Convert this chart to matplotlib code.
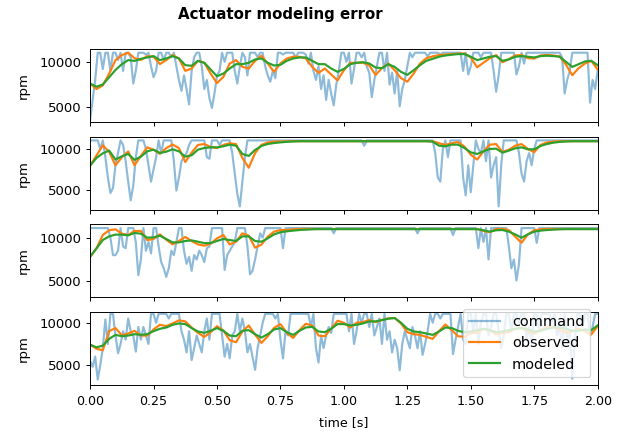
"""
Actuator modeling error: commanded vs observed vs modeled rpm, 4 runs.
"""

import numpy as np
import matplotlib
matplotlib.use("Agg")
import matplotlib.pyplot as plt

# ── Data ─────────────────────────────────────────────────────────────────────
# command sampled every 10 ms, observed / modeled every 25 ms
T_CMD = np.linspace(0.0, 2.0, 201)
T_FIT = np.linspace(0.0, 2.0, 81)

CMD_1 = [
    3600, 5800, 8000, 11000, 11000, 9200, 11000, 11000, 9000, 11000,
    11000, 10200, 11000, 9000, 11000, 11000, 10500, 7600, 9000, 11000,
    11000, 11000, 10800, 11000, 9500, 8300, 9000, 11000, 11000, 10200,
    11000, 11000, 10500, 11000, 9500, 8000, 6800, 8500, 7000, 5300,
    9000, 10500, 11000, 11000, 9500, 7000, 8000, 6000, 4900, 6500,
    8500, 9000, 11000, 10000, 11000, 11000, 11000, 9000, 7600, 9500,
    11000, 10500, 8500, 11000, 11000, 11000, 10500, 11000, 11000, 9500,
    8500, 7800, 9000, 8200, 11000, 11000, 10800, 11000, 11000, 11000,
    11000, 10500, 11000, 11000, 11000, 10800, 9800, 11000, 9000, 8000,
    9500, 7000, 8500, 5800, 8000, 6500, 5200, 7500, 9000, 11000,
    11000, 10000, 11000, 7600, 9200, 11000, 11000, 10500, 11000, 9500,
    8800, 6100, 8000, 9500, 11000, 11000, 9000, 11000, 7500, 8800,
    6500, 9000, 5100, 7000, 8000, 9500, 11000, 10500, 11000, 11000,
    11000, 11000, 11000, 10600, 11000, 11000, 11000, 11000, 10800, 11000,
    11000, 11000, 11000, 11000, 11000, 11000, 11000, 9000, 11000, 8600,
    9500, 11000, 11000, 11000, 10500, 11000, 11000, 11000, 11000, 9000,
    6700, 8500, 11000, 11000, 11000, 11000, 11000, 11000, 8600, 9500,
    11000, 9800, 11000, 11000, 11000, 11000, 11000, 11000, 11000, 11000,
    11000, 11000, 11000, 11000, 11000, 11000, 10500, 6500, 8000, 9000,
    11000, 11000, 11000, 11000, 11000, 11000, 11000, 5500, 8000, 7000,
    9000,
]
OBS_1 = [
    7600, 7000, 7400, 8700, 10190, 10740, 11000, 10400, 10200, 10630,
    10560, 9750, 10190, 10740, 10370, 9000, 9260, 10110, 9890, 8700,
    7650, 8330, 9810, 10190, 9440, 9260, 10110, 10670, 9810, 8890,
    9810, 10370, 10560, 10560, 10370, 9440, 8780, 9260, 8600, 7950,
    9070, 9890, 9890, 9900, 9600, 8550, 9300, 9810, 9070, 8200,
    7800, 8700, 9810, 10400, 10600, 10750, 10800, 10850, 10900, 10930,
    10480, 9400, 9900, 10400, 10740, 9950, 10300, 10700, 10750, 10400,
    10350, 10700, 10750, 10700, 10600, 9700, 8520, 9300, 9810, 10100,
    9150,
]
MOD_1 = [
    7600, 7250, 7500, 8300, 9100, 9740, 10190, 10100, 10330, 10480,
    10630, 10190, 10370, 10630, 10370, 9630, 9560, 10110, 9890, 9150,
    8410, 8700, 9260, 9740, 9740, 9890, 10260, 10370, 9890, 9590,
    9670, 10110, 10370, 10480, 10480, 10110, 9740, 9740, 9260, 8890,
    9220, 9740, 9890, 9960, 9810, 9370, 9300, 9740, 9440, 8890,
    8560, 9070, 9630, 10110, 10330, 10560, 10700, 10780, 10850, 10850,
    10560, 10190, 10370, 10560, 10630, 10110, 10260, 10560, 10630, 10560,
    10480, 10630, 10670, 10630, 10560, 10000, 9440, 9740, 10040, 10110,
    9630,
]

CMD_2 = [
    11050, 11050, 11050, 11050, 10000, 11050, 9000, 6500, 4600, 5200,
    8000, 9500, 11050, 10500, 8500, 6000, 3700, 5500, 9000, 11050,
    11050, 11050, 10000, 8000, 6000, 7500, 9000, 11050, 9500, 11050,
    11050, 11050, 11050, 8500, 4900, 6500, 8500, 9000, 9500, 10500,
    11050, 11050, 11050, 11050, 11050, 11050, 9000, 8800, 11050, 11050,
    11050, 10500, 11050, 11050, 11050, 11050, 9500, 7000, 4500, 2950,
    6000, 9000, 11050, 11050, 11050, 11050, 11050, 11050, 11050, 11050,
    11050, 11050, 11050, 11050, 11050, 11050, 11050, 11050, 11050, 11050,
    11050, 11050, 11050, 11050, 11050, 11050, 11050, 11050, 11050, 11050,
    11050, 11050, 11050, 11050, 11050, 11050, 11050, 11050, 11050, 11050,
    11050, 11050, 11050, 11050, 11050, 11050, 11050, 11050, 10400, 11050,
    11050, 11050, 11050, 11050, 11050, 11050, 11050, 11050, 11050, 11050,
    11050, 11050, 11050, 11050, 11050, 11050, 11050, 11050, 11050, 11050,
    11050, 11050, 11050, 11050, 11050, 11050, 9500, 6500, 6000, 10000,
    11050, 9000, 11050, 11050, 11050, 11050, 11050, 6500, 4300, 8000,
    4700, 8000, 11050, 10000, 9500, 11050, 8500, 11050, 6500, 8000,
    9000, 2950, 8000, 11050, 11050, 11050, 11050, 11050, 11050, 9500,
    7000, 6000, 8500, 9500, 8000, 10000, 11050, 11050, 11050, 11050,
    11050, 11050, 11050, 11050, 11050, 11050, 11050, 11050, 11050, 11050,
    11050, 11050, 11050, 11050, 11050, 11050, 11050, 11050, 11050, 11050,
    11050,
]
OBS_2 = [
    7960, 9200, 10450, 9650, 8000, 8980, 9700, 8000, 9150, 10200,
    9900, 9400, 10100, 10550, 10100, 8400, 9550, 10500, 10600, 10250,
    10120, 10500, 10700, 10600, 8900, 7700, 9500, 10500, 10800, 10900,
    10920, 10940, 10960, 10960, 10960, 10960, 10960, 10960, 10960, 10960,
    10960, 10960, 10960, 10960, 10960, 10960, 10960, 10960, 10960, 10960,
    10960, 10960, 10960, 10960, 10950, 10700, 10500, 10700, 10850, 10300,
    9300, 8700, 9700, 10530, 10600, 9650, 9900, 10400, 10600, 10000,
    9600, 10500, 10800, 10900, 10950, 10960, 10960, 10960, 10960, 10960,
    10960,
]
MOD_2 = [
    7960, 8900, 9470, 9800, 8700, 9100, 9390, 8660, 9060, 9710,
    9920, 9510, 9670, 9960, 9710, 9060, 9230, 9920, 10120, 10200,
    10200, 10330, 10530, 10400, 9390, 9150, 9880, 10370, 10610, 10730,
    10810, 10880, 10920, 10950, 10950, 10950, 10950, 10950, 10950, 10950,
    10950, 10950, 10950, 10950, 10950, 10950, 10950, 10950, 10950, 10950,
    10950, 10950, 10950, 10950, 10900, 10400, 10330, 10530, 10530, 10120,
    9590, 9390, 9710, 10000, 10040, 9550, 9800, 10080, 10200, 9960,
    9960, 10370, 10610, 10770, 10870, 10920, 10950, 10950, 10950, 10950,
    10950,
]

CMD_3 = [
    11100, 11100, 11100, 11100, 11100, 11100, 11100, 11100, 10000, 8000,
    8000, 8500, 11100, 9000, 8800, 11100, 11100, 11100, 9500, 5700,
    7500, 11100, 8500, 9500, 8200, 11100, 11100, 9000, 7200, 6500,
    5500, 6500, 8500, 8000, 9500, 11100, 11100, 8500, 7000, 7800,
    6200, 8000, 7500, 8500, 8000, 7200, 8800, 9000, 11100, 11100,
    11100, 11100, 11100, 6300, 8000, 8500, 9000, 9500, 11100, 11100,
    11100, 11100, 9000, 5800, 6200, 7500, 9000, 10500, 10000, 11100,
    11100, 11100, 11100, 11100, 11100, 11100, 8800, 11100, 11100, 11100,
    11100, 11100, 11100, 11100, 11100, 11100, 11100, 11100, 11100, 11100,
    11100, 11100, 11100, 11100, 11100, 11100, 10500, 11100, 11100, 11100,
    11100, 11100, 11100, 11100, 11100, 11100, 11100, 11100, 11100, 11100,
    11100, 11100, 11100, 11100, 11100, 11100, 11100, 11100, 11100, 11100,
    11100, 11100, 11100, 11100, 11100, 11100, 11100, 11100, 11100, 10500,
    11100, 11100, 11100, 11100, 11100, 11100, 11100, 11100, 11100, 11100,
    11100, 11100, 11100, 10300, 11100, 11100, 11100, 11100, 11100, 11100,
    11100, 11100, 11100, 8800, 11100, 9500, 11100, 7500, 11100, 11100,
    11100, 11100, 11100, 11100, 11100, 9000, 6500, 7500, 5100, 7000,
    11100, 11100, 11100, 11100, 11100, 11100, 9400, 11100, 11100, 11100,
    11100, 11100, 11100, 11100, 11100, 11100, 11100, 11100, 11100, 11100,
    11100, 11100, 11100, 11100, 11100, 11100, 11100, 11100, 11100, 11100,
    11100,
]
OBS_3 = [
    7810, 8770, 10310, 10850, 10960, 10460, 10310, 10770, 10770, 9730,
    9850, 10380, 9770, 9230, 9620, 10080, 9620, 9230, 9080, 9310,
    9920, 10310, 9230, 9540, 10500, 10230, 8850, 9200, 10120, 10690,
    10880, 10880, 10960, 11000, 11000, 11000, 11000, 11000, 11000, 11000,
    11000, 11000, 11000, 11000, 11000, 11000, 11000, 11000, 11000, 11000,
    11000, 11000, 11000, 11000, 11000, 11000, 11000, 11000, 11000, 11000,
    11000, 11000, 10770, 10620, 11000, 11000, 10880, 10120, 9420, 10380,
    10850, 10960, 11000, 11000, 11000, 11000, 11000, 11000, 11000, 11000,
    11000,
]
MOD_3 = [
    7810, 8770, 9730, 10150, 10350, 10350, 10270, 10540, 10460, 10000,
    10040, 10230, 9850, 9460, 9460, 9620, 9690, 9540, 9380, 9380,
    9620, 9850, 9730, 9620, 10150, 10150, 9620, 9540, 9920, 10380,
    10620, 10730, 10810, 10880, 10920, 10960, 10980, 10980, 10980, 10980,
    10980, 10980, 10980, 10980, 10980, 10980, 10980, 10980, 10980, 10980,
    10980, 10980, 10980, 10980, 10980, 10980, 10980, 10980, 10980, 10980,
    10980, 10980, 10850, 10690, 10850, 10880, 10690, 10380, 10000, 10380,
    10690, 10810, 10880, 10920, 10960, 10980, 10980, 10980, 10980, 10980,
    10980,
]

CMD_4 = [
    5500, 4800, 6000, 3300, 5000, 7000, 10400, 7500, 11050, 11050,
    8500, 6400, 7500, 9000, 8000, 10500, 9000, 8500, 6600, 9500,
    8000, 9500, 8500, 7500, 11050, 11050, 10000, 11050, 11050, 11050,
    11050, 10500, 11050, 11050, 11050, 11050, 9000, 8000, 6500, 9000,
    5600, 7000, 8500, 7500, 6500, 9000, 10500, 8000, 11050, 11050,
    11050, 11050, 8500, 6000, 7500, 5800, 8500, 9000, 11050, 9000,
    10500, 9000, 6500, 7500, 6000, 4450, 7000, 8500, 10000, 11050,
    11050, 11050, 11050, 10500, 11050, 8000, 5800, 9000, 8500, 11050,
    11050, 11050, 11050, 11050, 11050, 11050, 11050, 9500, 11050, 7000,
    5300, 8500, 7000, 8500, 9500, 8800, 11050, 11050, 11050, 11050,
    11050, 11050, 9000, 11050, 7500, 9000, 11050, 10000, 11050, 11050,
    9500, 11050, 8500, 9500, 10500, 7500, 11050, 8000, 9000, 6500,
    8000, 7000, 4400, 7500, 9000, 8000, 7000, 9500, 8500, 7000,
    9000, 6200, 7500, 9000, 11050, 10000, 11050, 11050, 10500, 11050,
    11050, 11050, 11050, 6300, 8000, 9500, 11050, 8000, 7500, 11050,
    11050, 9000, 11050, 7500, 10000, 11050, 11050, 8500, 9500, 11050,
    11050, 9000, 7000, 8500, 11050, 11050, 9000, 11050, 11050, 10000,
    11050, 11050, 8000, 9500, 7500, 11050, 11050, 9000, 11050, 11050,
    11050, 11050, 10000, 11050, 8500, 9500, 7000, 11050, 8000, 9000,
    3400, 8000, 11050, 11050, 9500, 11050, 11050, 8500, 9500, 11050,
    11050,
]
OBS_4 = [
    7420, 6940, 6750, 9010, 9370, 8530, 8730, 9050, 8490, 8490,
    9210, 9760, 9600, 9920, 10280, 10160, 9440, 8810, 8330, 8890,
    9600, 9090, 7940, 7700, 8970, 9680, 8610, 7620, 8410, 9400,
    9840, 8810, 8210, 9130, 9880, 9680, 8490, 8410, 9290, 10240,
    10000, 9440, 10000, 10080, 10320, 10080, 10320, 10520, 10560, 9920,
    8890, 8650, 8570, 8330, 8100, 9010, 9800, 9130, 8410, 8330,
    8810, 8810, 9290, 9130, 8610, 8810, 8890, 9290, 9400, 9010,
    8730, 9130, 9520, 9520, 9210, 8810, 8970, 9290, 9010, 8610,
    9600,
]
MOD_4 = [
    7420, 7100, 7300, 8100, 8570, 8410, 8490, 8650, 8570, 8650,
    9010, 9290, 9440, 9760, 9920, 9840, 9370, 8970, 8810, 9050,
    9370, 9050, 8490, 8410, 9050, 9130, 8650, 8250, 8650, 9210,
    9370, 8890, 8570, 9050, 9440, 9520, 8970, 8890, 9290, 9840,
    9840, 9680, 9760, 9920, 10160, 10160, 10320, 10480, 10560, 10000,
    9290, 8970, 8890, 8730, 8570, 8970, 9440, 9370, 9050, 8890,
    8970, 9130, 9290, 9130, 8890, 8970, 9130, 9290, 9370, 9210,
    8970, 9050, 9290, 9440, 9440, 9290, 9050, 9050, 9210, 9130,
    9680,
]

COMMANDS = [CMD_1, CMD_2, CMD_3, CMD_4]
OBSERVED = [OBS_1, OBS_2, OBS_3, OBS_4]
MODELED = [MOD_1, MOD_2, MOD_3, MOD_4]
YLIMS = [(3340, 11380), (2560, 11500), (3190, 11546), (2714, 11310)]

# ── Plot ─────────────────────────────────────────────────────────────────────
fig, axes = plt.subplots(4, 1, figsize=(7.2, 5.0), dpi=86.8, sharex=True)
fig.subplots_adjust(left=0.1442, right=0.9563, top=0.8864, bottom=0.114, hspace=0.2)

for ax, cmd, obs, mod, ylim in zip(axes, COMMANDS, OBSERVED, MODELED, YLIMS):
    ax.plot(T_CMD, cmd, color="C0", alpha=0.5, lw=1.8, label="command")
    ax.plot(T_FIT, obs, color="C1", lw=1.8, label="observed")
    ax.plot(T_FIT, mod, color="C2", lw=1.8, label="modeled")
    ax.set_ylabel("rpm", fontsize=11, labelpad=8)
    ax.tick_params(axis="y", labelsize=11)
    ax.set_ylim(*ylim)
    ax.set_xlim(0, 2)

axes[-1].tick_params(axis="x", labelsize=10.5, pad=5)
axes[-1].set_xlabel("time [s]", fontsize=10.5, labelpad=6.5)
axes[-1].legend(loc="lower right", fontsize=12, handlelength=2.2)
fig.suptitle("Actuator modeling error", fontweight="bold", fontsize=12.5,
             x=0.449, y=0.985)

plt.savefig("out.png", dpi=86.8)
plt.close()
